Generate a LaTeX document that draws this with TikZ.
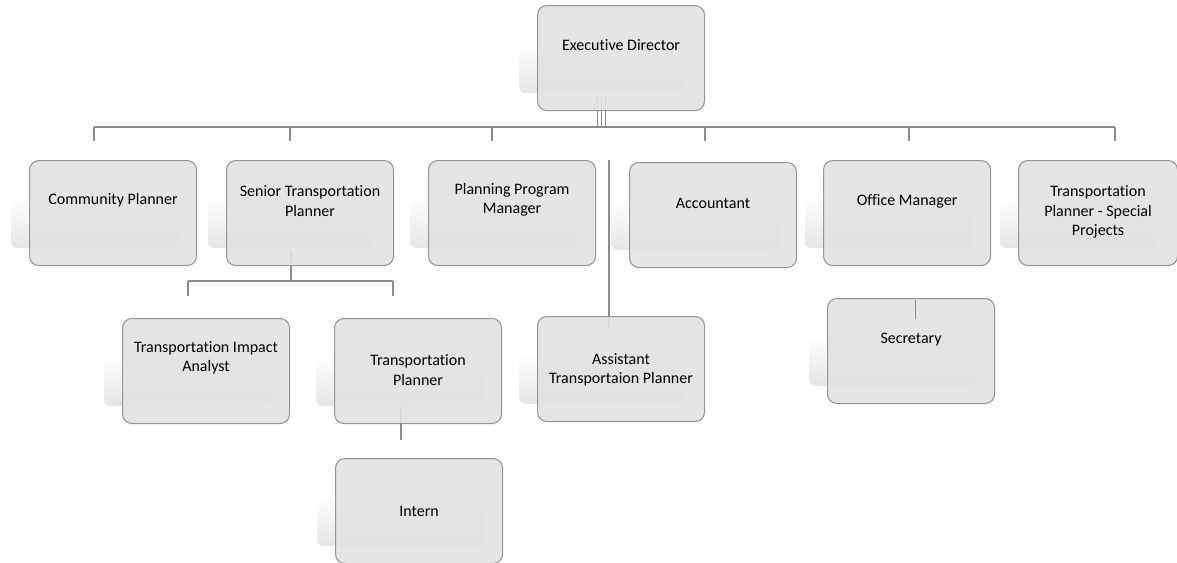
\documentclass[tikz,border=0pt]{standalone}
\usepackage{fontspec}
\setmainfont{Carlito}[Ligatures=NoCommon]
\usetikzlibrary{calc,backgrounds}
\definecolor{postfill}{RGB}{226,226,226}
\definecolor{postedge}{RGB}{150,150,150}
\definecolor{wiregray}{RGB}{140,140,140}
\begin{document}
\begin{tikzpicture}[x=0.75pt,y=-0.75pt,
    post/.style={draw=postedge,fill=postfill,fill opacity=0.9,line width=0.8pt,
      rounded corners=7pt,anchor=north west,minimum height=78.75pt,inner sep=0pt},
    band/.style={top color=white,bottom color=black!10,rounded corners=5pt},
    postname/.style={font=\fontsize{12}{14.6}\selectfont,align=center,text=black},
    wire/.style={draw=wiregray,line width=1.1pt}]
\useasboundingbox (0,0) rectangle (1177,562);
% boxes: name/left/top/width/text offset/text
\foreach \nm/\px/\py/\w/\dy/\txt in {
    ed/537/5/167/40/{Executive Director},
    cp/29/160/167/40/{Community Planner},
    stp/226/160/167/41/{Senior Transportation\\Planner},
    ppm/428/160/167/40/{Planning Program\\Manager},
    acc/629/162/167/41/{Accountant},
    om/823/160/167/41/{Office Manager},
    tps/1018/160/159/52/{Transportation\\Planner - Special\\Projects},
    tia/122/318/167/40/{Transportation Impact\\Analyst},
    tp/334/318/167/52/{Transportation\\Planner},
    int/335/458/167/53/{Intern},
    atp/537/316/167/54/{Assistant\\Transportaion Planner},
    sec/827/298/167/42/{Secretary}}
  {
  \begin{pgfonlayer}{background}
    \shade[band] (\px-18,\py+38) rectangle (\px-18+\w,\py+88);
  \end{pgfonlayer}
  \node[post,minimum width=\w*0.75pt] (\nm) at (\px,\py) {};
  \node[postname] (\nm-t) at ($(\nm.north)+(0,\dy)$) {\txt};
  }
% connectors
\begin{pgfonlayer}{background}
  \coordinate (bus-l) at (94,127);
  \coordinate (bus-r) at (1115,127);
  \foreach \dx in {-24,-20,-16}
    \draw[wire,line width=0.5pt] ($(ed.south)+(\dx,-15)$) -- ($(ed.south)+(\dx,17)$);
  \draw[wire] (bus-l) -- (bus-r);
  \foreach \x in {94,290,492,705,909,1115}
    \draw[wire] (\x,127) -- (\x,141);
  \coordinate (atp-in) at ($(atp.north)+(-12,12)$);
  \draw[wire] (atp-in) -- (atp-in |- stp.north);
  \coordinate (stp-out) at ($(stp.south)+(-19,-15)$);
  \draw[wire] (stp-out) -- ++(0,31) coordinate (sub-bus);
  \draw[wire] (188,281) -- (393,281);
  \foreach \x in {188,393}
    \draw[wire] (\x,281) -- (\x,296);
  \draw[wire] ($(tp.south)+(-17,-17)$) -- ($(int.north)+(-18,-18)$);
\end{pgfonlayer}
\draw[wire,line width=0.8pt] ($(sec.north)+(4,2)$) -- ++(0,19);
\end{tikzpicture}
\end{document}
